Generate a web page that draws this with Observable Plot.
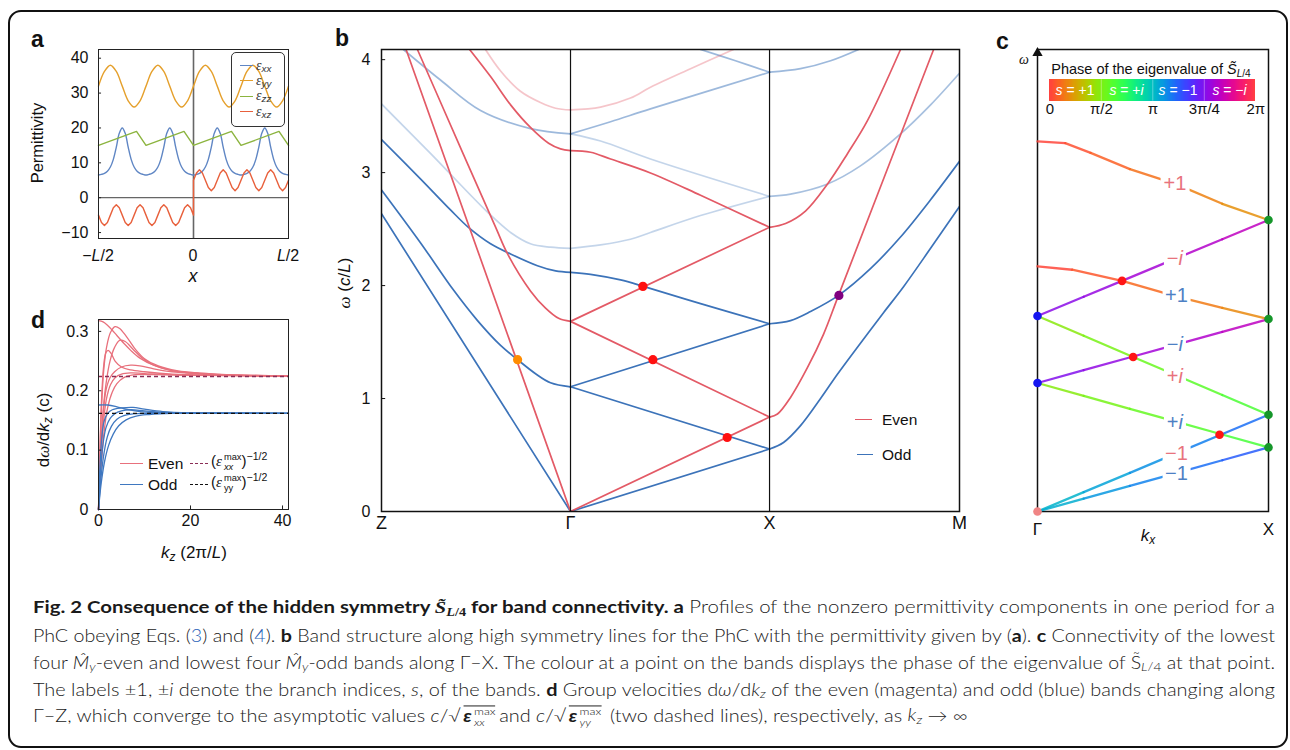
<!DOCTYPE html>
<html><head><meta charset="utf-8">
<script src="https://cdn.jsdelivr.net/npm/d3@7"></script>
<script src="https://cdn.jsdelivr.net/npm/@observablehq/plot@0.6"></script>
<style>
html,body{margin:0;padding:0;background:#fff;}
#fig{position:relative;width:1290px;height:750px;overflow:hidden;background:#fff;font-family:"Liberation Sans",Arial,Helvetica,sans-serif;color:#111;}
#fig svg{position:absolute;overflow:visible;}
.lab{position:absolute;white-space:nowrap;line-height:1;}
.lab sub{font-size:0.7em;vertical-align:-0.3em;line-height:0;}
.lab sup{font-size:0.7em;vertical-align:0.55em;line-height:0;}
.serif{font-family:"Liberation Serif","DejaVu Serif",serif;}
.pl{font-weight:bold;font-size:23px;}
.border{position:absolute;left:8px;top:10px;width:1276px;height:734px;border:2px solid #111;border-radius:13px;}
.cap{position:absolute;left:33px;white-space:nowrap;font-family:Lato,"Open Sans",sans-serif;font-weight:300;font-size:17px;line-height:1;color:#1a1a1a;transform-origin:0 50%;}
.cap b{font-weight:700;}
.cap sub{font-size:0.7em;vertical-align:-0.25em;line-height:0;}
.lk{color:#2a62b8;}
.ss{display:inline-flex;flex-direction:column;font-size:0.62em;line-height:1.05;vertical-align:0.6em;margin-left:2px;}
.ov{display:inline-block;border-top:1px solid #222;padding-top:0;line-height:1;margin-left:2px;margin-right:3px;}
.legbox{position:absolute;border:1px solid #333;border-radius:5px;}
.leg-line{position:absolute;height:0;border-top-width:1.6px;border-top-style:solid;}
</style></head>
<body><div id="fig"></div>
<script>
// ================= DATA =================
// ---- panel a : permittivity profiles (x in units of L) ----
const aXTicks = [-0.5, 0, 0.5];
const aXTickLabels = ["−<i>L</i>/2", "0", "<i>L</i>/2"];
const aYTicks = [-10, 0, 10, 20, 30, 40];
const aGrid64 = d3.range(-32, 33).map(k => k / 64);   // sampling positions, step L/64
const aGrid32 = d3.range(-16, 17).map(k => k / 32);   // sampling positions, step L/32
const epsXX = [6.5,6.7,7,7.6,8.8,11,14.5,18.5,20,18.5,14.5,11,8.8,7.6,7,6.7,
               6.5,6.7,7,7.6,8.8,11,14.5,18.5,20,18.5,14.5,11,8.8,7.6,7,6.7,
               6.5,6.7,7,7.6,8.8,11,14.5,18.5,20,18.5,14.5,11,8.8,7.6,7,6.7,
               6.5,6.7,7,7.6,8.8,11,14.5,18.5,20,18.5,14.5,11,8.8,7.6,7,6.7,6.5];
const epsYY = [32,36.2,38,36.2,32,27.8,26,27.8, 32,36.2,38,36.2,32,27.8,26,27.8,
               32,36.2,38,36.2,32,27.8,26,27.8, 32,36.2,38,36.2,32,27.8,26,27.8, 32];
const epsZZ = [[-0.5,15],[-0.3,19],[-0.25,15],[-0.05,19],[0,15],[0.2,19],[0.25,15],[0.45,19],[0.5,15]];
const epsXZneg = [-5,-7.1,-8,-7.1,-5,-2.9,-2,-2.9, -5,-7.1,-8,-7.1,-5,-2.9,-2,-2.9,
                  -5,-7.1,-8,-7.1,-5,-2.9,-2,-2.9, -5,-7.1,-8,-7.1,-5,-2.9,-2,-2.9, -5];
const epsXZpos = [5,7.1,8,7.1,5,2.9,2,2.9, 5,7.1,8,7.1,5,2.9,2,2.9,
                  5,7.1,8,7.1,5,2.9,2,2.9, 5,7.1,8,7.1,5,2.9,2,2.9, 5];

// ---- panel b : band structure, x = position along Z–Γ–X–M path ----
const bTickPos = [0, 1, 2.053, 3.058];
const bTickLabels = ["Z", "Γ", "X", "M"];
const bYTicks = [0, 1, 2, 3, 4];
const bEvenBands = [
  {op:1,    pts:[[0.13,4.09],[1,0]]},
  {op:1,    pts:[[0.19,4.09],[0.434,3.16],[0.603,2.52],[0.667,2.28],[0.788,1.953],[0.868,1.80],[0.937,1.71],[1,1.683]]},
  {op:1,    pts:[[0.466,4.09],[0.577,3.85],[0.683,3.60],[0.788,3.40],[0.884,3.26],[0.947,3.21],[1,3.195]]},
  {op:0.35, pts:[[0.550,4.09],[0.630,3.90],[0.735,3.72],[0.841,3.62],[0.921,3.57],[1,3.555]]},
  {op:1,    pts:[[1,0],[2.053,0.836]]},
  {op:1,    pts:[[1,1.683],[2.053,0.836]]},
  {op:1,    pts:[[1,1.683],[2.053,2.516]]},
  {op:1,    pts:[[1,3.195],[1.106,3.18],[1.212,3.12],[1.423,2.997],[1.688,2.80],[2.053,2.516]]},
  {op:0.35, pts:[[1,3.555],[1.159,3.58],[1.317,3.66],[1.423,3.756],[1.635,3.92],[1.862,4.09]]},
  {op:1,    pts:[[2.053,2.516],[2.138,2.55],[2.243,2.66],[2.360,2.90],[2.466,3.17],[2.571,3.46],[2.746,4.09]]},
  {op:1,    pts:[[2.053,0.836],[2.095,0.863],[2.164,1.01],[2.254,1.275],[2.339,1.571],[2.418,1.913],[2.921,4.09]]}
];
const bOddBands = [
  {op:1,    pts:[[0,2.636],[1,0]]},
  {op:1,    pts:[[0,2.847],[0.206,2.38],[0.381,1.96],[0.508,1.69],[0.630,1.47],[0.720,1.344],[0.815,1.22],[0.894,1.14],[1,1.104]]},
  {op:1,    pts:[[0,3.292],[0.206,2.945],[0.365,2.67],[0.460,2.515],[0.577,2.37],[0.683,2.28],[0.825,2.176],[0.921,2.13],[1,2.117]]},
  {op:0.3,  pts:[[0,3.608],[0.259,3.17],[0.561,2.65],[0.683,2.47],[0.788,2.37],[0.894,2.34],[1,2.33]]},
  {op:0.5,  pts:[[0.116,4.09],[0.312,3.82],[0.524,3.55],[0.788,3.39],[1,3.343]]},
  {op:1,    pts:[[1,0],[2.053,0.553]]},
  {op:1,    pts:[[1,1.104],[2.053,1.662]]},
  {op:1,    pts:[[1,1.104],[2.053,0.553]]},
  {op:1,    pts:[[1,2.117],[1.106,2.10],[1.265,2.05],[1.386,1.993],[1.688,1.84],[2.053,1.662]]},
  {op:0.3,  pts:[[1,2.33],[1.159,2.36],[1.317,2.41],[1.423,2.47],[1.688,2.62],[2.053,2.79]]},
  {op:0.3,  pts:[[1,3.343],[1.159,3.28],[1.423,3.121],[2.053,2.79]]},
  {op:0.5,  pts:[[1,3.343],[1.212,3.45],[1.423,3.564],[2.053,3.889]]},
  {op:0.5,  pts:[[1.688,4.09],[1.873,3.99],[2.053,3.889]]},
  {op:1,    pts:[[2.053,1.662],[2.164,1.69],[2.270,1.77],[2.418,1.913],[2.587,2.15],[2.746,2.43],[2.905,2.76],[3.058,3.10]]},
  {op:1,    pts:[[2.053,0.553],[2.127,0.611],[2.217,0.76],[2.323,1.0],[2.413,1.217],[2.534,1.49],[2.656,1.76],[2.762,1.99],[2.905,2.33],[3.058,2.70]]},
  {op:0.45, pts:[[2.053,2.79],[2.164,2.81],[2.360,2.90],[2.534,3.06],[2.746,3.343],[2.905,3.6],[3.058,3.88]]},
  {op:0.5,  pts:[[2.053,3.889],[2.217,3.92],[2.376,3.99],[2.524,4.09]]}
];
const bCrossings = [
  {k:0.720, w:1.344, c:"#ff8c00"},
  {k:1.383, w:1.993, c:"#ff1010"},
  {k:1.436, w:1.344, c:"#ff1010"},
  {k:1.829, w:0.655, c:"#ff1010"},
  {k:2.420, w:1.913, c:"#800080"}
];

// ---- panel c : Γ–X connectivity, [kx fraction, ω, phase in degrees] ----
const cBands = [
  {par:"even", pts:[[0,3.20,0],[0.12,3.185,5],[0.23,3.10,11],[0.4,2.96,19],[0.6,2.83,27],[0.8,2.66,34],[1,2.52,40]]},
  {par:"odd",  pts:[[0,2.12,0],[0.15,2.09,7],[0.366,1.994,15],[0.6,1.86,24],[0.8,1.76,31],[1,1.664,37]]},
  {par:"even", pts:[[0,1.69,272],[0.2,1.856,278],[0.366,1.994,283],[0.6,2.188,291],[0.8,2.354,297],[1,2.52,303]]},
  {par:"even", pts:[[0,1.69,82],[0.2,1.519,90],[0.414,1.336,97],[0.6,1.178,104],[0.8,1.007,111],[1,0.836,118]]},
  {par:"odd",  pts:[[0,1.111,268],[0.2,1.222,275],[0.414,1.34,282],[0.6,1.443,290],[0.8,1.553,296],[1,1.664,302]]},
  {par:"odd",  pts:[[0,1.111,84],[0.2,1.0,91],[0.4,0.888,98],[0.6,0.777,106],[0.788,0.672,113],[1,0.554,120]]},
  {par:"even", pts:[[0,0,182],[0.2,0.167,190],[0.4,0.334,198],[0.6,0.502,206],[0.788,0.659,214],[1,0.836,222]]},
  {par:"odd",  pts:[[0,0,184],[0.2,0.111,194],[0.4,0.222,204],[0.6,0.332,214],[0.8,0.443,222],[1,0.554,230]]}
];
const cLabels = [
  {u:0.597, w:2.832, t:"+1", par:"even"},
  {u:0.597, w:2.185, t:"−<i>i</i>", par:"even"},
  {u:0.604, w:1.870, t:"+1", par:"odd"},
  {u:0.597, w:1.441, t:"−<i>i</i>", par:"odd"},
  {u:0.597, w:1.170, t:"+<i>i</i>", par:"even"},
  {u:0.597, w:0.770, t:"+<i>i</i>", par:"odd"},
  {u:0.604, w:0.505, t:"−1", par:"even"},
  {u:0.604, w:0.330, t:"−1", par:"odd"}
];
const cDotsGamma = [{u:0, w:1.69}, {u:0, w:1.111}];
const cDotsOrigin = [{u:0, w:0}];
const cDotsCross = [{u:0.366, w:1.994}, {u:0.414, w:1.336}, {u:0.788, w:0.663}];
const cDotsX = [{u:1, w:2.52}, {u:1, w:1.664}, {u:1, w:0.836}, {u:1, w:0.554}];
const cbTicks = [0, 90, 180, 270, 360];
const cbTickLabels = ["0", "π/2", "π", "3π/4", "2π"];
const cbSegLabels = [{ph:45, t:"<i>s</i> = +1"}, {ph:135, t:"<i>s</i> = +<i>i</i>"}, {ph:225, t:"<i>s</i> = −1"}, {ph:315, t:"<i>s</i> = −<i>i</i>"}];

// ---- panel d : group velocities ----
const dXTicks = [0, 20, 40];
const dYTicks = [0, 0.1, 0.2, 0.3];
const dEvenAsym = 0.224, dOddAsym = 0.162;
const dEven = [
  [[0,0.318],[1,0.316],[2,0.31],[3,0.302],[4,0.293],[5.5,0.28],[7,0.268],[9,0.255],[12,0.243],[16,0.234],[22,0.229],[30,0.226],[41.3,0.225]],
  [[0,0],[0.3,0.09],[0.7,0.18],[1.2,0.24],[1.8,0.275],[2.6,0.298],[3.6,0.308],[4.6,0.305],[6,0.292],[8,0.27],[10,0.254],[13,0.242],[17,0.234],[24,0.229],[32,0.226],[41.3,0.225]],
  [[0,0],[0.4,0.08],[0.9,0.155],[1.6,0.21],[2.5,0.25],[3.5,0.273],[4.6,0.285],[5.8,0.283],[7.5,0.27],[9.5,0.255],[12,0.243],[16,0.234],[24,0.228],[41.3,0.225]],
  [[0,0],[0.3,0.1],[0.7,0.19],[1.1,0.24],[1.6,0.264],[2.1,0.268],[2.8,0.262],[3.6,0.25],[5,0.24],[7,0.235],[10,0.232],[16,0.228],[25,0.226],[41.3,0.225]],
  [[0,0],[0.5,0.09],[1,0.16],[1.6,0.2],[2.5,0.222],[3.5,0.232],[5,0.24],[7,0.243],[9,0.242],[12,0.237],[16,0.232],[24,0.228],[41.3,0.225]],
  [[0,0],[0.5,0.08],[1,0.14],[1.7,0.185],[2.6,0.21],[3.6,0.222],[5,0.228],[7,0.23],[10,0.229],[16,0.227],[41.3,0.225]],
  [[0,0],[0.6,0.075],[1.2,0.13],[2,0.172],[3,0.198],[4,0.212],[5.5,0.222],[8,0.227],[12,0.227],[20,0.226],[41.3,0.225]]
];
const dOdd = [
  [[0,0.176],[2,0.176],[4,0.173],[6,0.169],[9,0.165],[13,0.163],[20,0.162],[41.3,0.162]],
  [[0,0],[0.3,0.07],[0.7,0.12],[1.2,0.148],[2,0.162],[3,0.168],[5,0.171],[7.5,0.172],[10,0.169],[14,0.165],[20,0.163],[41.3,0.162]],
  [[0,0],[0.4,0.06],[0.9,0.105],[1.6,0.137],[2.5,0.153],[3.5,0.161],[5,0.166],[7,0.168],[10,0.166],[15,0.163],[41.3,0.162]],
  [[0,0],[0.5,0.05],[1.1,0.09],[1.9,0.122],[2.8,0.14],[4,0.152],[5.5,0.158],[7.5,0.161],[11,0.162],[41.3,0.162]],
  [[0,0],[0.6,0.045],[1.3,0.08],[2.2,0.108],[3.2,0.127],[4.4,0.141],[6,0.151],[8,0.157],[11,0.16],[16,0.162],[41.3,0.162]]
];

// ================= HELPERS =================
const fig = document.getElementById("fig");
const border = document.createElement("div"); border.className = "border"; fig.appendChild(border);
const FONT = '"Liberation Sans", Arial, Helvetica, sans-serif';
const baseStyle = {background: "none", fontFamily: FONT, fontSize: "15px", color: "#111", overflow: "visible"};
function mount(plot, pos) { plot.style.left = pos.left + "px"; plot.style.top = pos.top + "px"; fig.appendChild(plot); return plot; }
function lab(html, x, y, o = {}) {
  const d = document.createElement("div");
  d.className = "lab" + (o.cls ? " " + o.cls : "");
  d.innerHTML = html;
  d.style.left = x + "px"; d.style.top = y + "px";
  if (o.size) d.style.fontSize = o.size + "px";
  if (o.color) d.style.color = o.color;
  if (o.bg) { d.style.background = o.bg; d.style.padding = o.pad || "1px 2px"; }
  const tx = o.anchor === "start" ? "0" : o.anchor === "end" ? "-100%" : "-50%";
  d.style.transform = `translate(${tx},-50%)` + (o.rotate ? ` rotate(${o.rotate}deg)` : "");
  fig.appendChild(d);
  return d;
}
function legLine(x1, x2, y, color, dashed) {
  const d = document.createElement("div"); d.className = "leg-line";
  d.style.left = x1 + "px"; d.style.width = (x2 - x1) + "px"; d.style.top = (y - 0.8) + "px";
  d.style.borderTopColor = color; if (dashed) d.style.borderTopStyle = "dashed";
  fig.appendChild(d);
}
const SX = (plot, pos, v) => pos.left + plot.scale("x").apply(v);
const SY = (plot, pos, v) => pos.top + plot.scale("y").apply(v);
const minus = d => (d < 0 ? "−" + (-d) : String(d));

// ================= PANEL A =================
const C_XX = "#5f86c4", C_YY = "#e5a02c", C_ZZ = "#8cb43f", C_XZ = "#e8603c";
const rowsXX = aGrid64.map((x, i) => ({x, v: epsXX[i]}));
const rowsYY = aGrid32.map((x, i) => ({x, v: epsYY[i]}));
const rowsZZ = epsZZ.map(([x, v]) => ({x, v}));
const rowsXZ = [...aGrid64.slice(0, 33).map((x, i) => ({x, v: epsXZneg[i]})),
                ...aGrid64.slice(32).map((x, i) => ({x, v: epsXZpos[i]}))];
const A = {left: 20, top: 30};
const plotA = mount(Plot.plot({
  width: 280, height: 250, marginLeft: 78, marginRight: 12, marginTop: 19, marginBottom: 42,
  x: {domain: [-0.5, 0.5], axis: null},
  y: {domain: [-11.7, 42.5], axis: null},
  style: baseStyle,
  marks: [
    Plot.ruleY([0], {stroke: "#666", strokeWidth: 1.2}),
    Plot.ruleX([0], {stroke: "#666", strokeWidth: 1.6}),
    Plot.line(rowsXX, {x: "x", y: "v", stroke: C_XX, strokeWidth: 1.4, curve: "catmull-rom"}),
    Plot.line(rowsYY, {x: "x", y: "v", stroke: C_YY, strokeWidth: 1.4, curve: "catmull-rom"}),
    Plot.line(rowsZZ, {x: "x", y: "v", stroke: C_ZZ, strokeWidth: 1.4}),
    Plot.line(rowsXZ, {x: "x", y: "v", stroke: C_XZ, strokeWidth: 1.4}),
    Plot.ruleY(aYTicks, {x1: -0.5, x2: -0.484, stroke: "#222"}),
    Plot.text(aYTicks, {y: d => d, frameAnchor: "left", dx: -10, textAnchor: "end", text: minus, fontSize: 16}),
    Plot.frame({stroke: "#222"})
  ]
}), A);
aXTicks.forEach((v, i) => lab(aXTickLabels[i], SX(plotA, A, v), 256, {size: 16}));
lab("<i>x</i>", SX(plotA, A, 0), 276, {size: 18});
lab("Permittivity", 37, 143, {size: 16.5, rotate: -90});
// legend a
{
  const box = document.createElement("div"); box.className = "legbox";
  Object.assign(box.style, {left: "231px", top: "52px", width: "52px", height: "73px"});
  fig.appendChild(box);
  const ents = [["xx", C_XX], ["yy", C_YY], ["zz", C_ZZ], ["xz", C_XZ]];
  ents.forEach(([s, c], i) => {
    const y = [65.7, 81, 96.3, 111.7][i];
    legLine(240, 253, y, c);
    lab(`<span class="serif"><i>ε</i></span><sub><i>${s}</i></sub>`, 256, y - 1, {anchor: "start", size: 14, color: "#333"});
  });
}
lab("a", 31, 39, {anchor: "start", cls: "pl"});

// ================= PANEL D =================
const D_EVEN = "#e8707c", D_ODD = "#3f78c0";
const D = {left: 20, top: 300};
const plotD = mount(Plot.plot({
  width: 280, height: 262, marginLeft: 78, marginRight: 12, marginTop: 19, marginBottom: 53,
  x: {domain: [0, 41.3], axis: null},
  y: {domain: [0, 0.32], axis: null},
  style: baseStyle,
  marks: [
    ...dEven.map(p => Plot.line(p, {x: d => d[0], y: d => d[1], stroke: D_EVEN, strokeWidth: 1.3, curve: "catmull-rom"})),
    ...dOdd.map(p => Plot.line(p, {x: d => d[0], y: d => d[1], stroke: D_ODD, strokeWidth: 1.3, curve: "catmull-rom"})),
    Plot.ruleY([dEvenAsym], {stroke: "#8a2d55", strokeWidth: 1.3, strokeDasharray: "4,3"}),
    Plot.ruleY([dOddAsym], {stroke: "#111", strokeWidth: 1.3, strokeDasharray: "4,3"}),
    Plot.ruleY(dYTicks, {x1: 0, x2: 0.7, stroke: "#222"}),
    Plot.ruleX(dXTicks, {y1: 0, y2: 0.006, stroke: "#222"}),
    Plot.text(dYTicks, {y: d => d, frameAnchor: "left", dx: -10, textAnchor: "end", text: d => String(d), fontSize: 16}),
    Plot.text(dXTicks, {x: d => d, frameAnchor: "bottom", dy: 16, text: d => String(d), fontSize: 16}),
    Plot.frame({stroke: "#222"})
  ]
}), D);
lab('<i>k</i><sub><i>z</i></sub> (2π/<i>L</i>)', 194, 552, {size: 17});
lab('d<i class="serif">ω</i>/d<i>k</i><sub><i>z</i></sub> (c)', 43, 430, {size: 17, rotate: -90});
legLine(120, 143, 463.5, D_EVEN); lab("Even", 148, 463.5, {anchor: "start", size: 15.5});
legLine(120, 143, 484.5, D_ODD); lab("Odd", 148, 484.5, {anchor: "start", size: 15.5});
legLine(190, 208, 463.5, "#8a2d55", true);
legLine(190, 208, 484.5, "#111", true);
lab('(<i class="serif">ε</i><span class="ss"><span>max</span><span><i>xx</i></span></span>)<sup>−1/2</sup>', 211, 463, {anchor: "start", size: 15});
lab('(<i class="serif">ε</i><span class="ss"><span>max</span><span>yy</span></span>)<sup>−1/2</sup>', 211, 484, {anchor: "start", size: 15});
lab("d", 31, 320, {anchor: "start", cls: "pl"});

// ================= PANEL B =================
const B_EVEN = "#e35a66", B_ODD = "#3c73b9";
const B = {left: 330, top: 20};
const bandMarks = (bands, color) => bands.map(b => Plot.line(b.pts, {
  x: d => d[0], y: d => d[1], stroke: color, strokeOpacity: b.op, strokeWidth: 1.7, curve: "catmull-rom", clip: true
}));
const plotB = mount(Plot.plot({
  width: 640, height: 530, marginLeft: 51, marginRight: 11, marginTop: 29, marginBottom: 39,
  x: {domain: [0, 3.058], axis: null},
  y: {domain: [0, 4.09], axis: null},
  style: baseStyle,
  marks: [
    ...bandMarks(bOddBands, B_ODD),
    ...bandMarks(bEvenBands, B_EVEN),
    Plot.ruleX(bTickPos.slice(1, 3), {stroke: "#111", strokeWidth: 1.2}),
    ...[...new Set(bCrossings.map(d => d.c))].map(c =>
      Plot.dot(bCrossings.filter(d => d.c === c), {x: "k", y: "w", fill: c, r: 4.6})),
    Plot.ruleY(bYTicks.slice(1), {x1: 0, x2: 0.022, stroke: "#111"}),
    Plot.text(bYTicks, {y: d => d, frameAnchor: "left", dx: -11, textAnchor: "end", text: d => String(d), fontSize: 16}),
    Plot.text(bTickPos, {x: d => d, frameAnchor: "bottom", dy: 17, text: (d, i) => bTickLabels[i], fontSize: 18}),
    Plot.frame({stroke: "#111", strokeWidth: 1.5})
  ]
}), B);
lab('<i class="serif">ω</i> (<i>c</i>/<i>L</i>)', 344, 283, {size: 17, rotate: -90});
legLine(855, 872, 420, B_EVEN); lab("Even", 882, 420, {anchor: "start", size: 15.5});
legLine(857, 873, 454.5, B_ODD); lab("Odd", 882, 454.5, {anchor: "start", size: 15.5});
lab("b", 335, 38, {anchor: "start", cls: "pl"});

// ================= PANEL C =================
const C = {left: 990, top: 20};
const cSegs = cBands.flatMap(b => b.pts.slice(1).map((p, i) => ({
  u1: b.pts[i][0], w1: b.pts[i][1], u2: p[0], w2: p[1], ph: (b.pts[i][2] + p[2]) / 2
})));
const plotC = mount(Plot.plot({
  width: 300, height: 530, marginLeft: 47, marginRight: 22, marginTop: 29, marginBottom: 39,
  x: {domain: [0, 1], axis: null},
  y: {domain: [0, 3.994], axis: null},
  color: {type: "linear", domain: [0, 360], scheme: "sinebow"},
  style: baseStyle,
  marks: [
    Plot.frame({stroke: "#111", strokeWidth: 1.5}),
    Plot.link(cSegs, {x1: "u1", y1: "w1", x2: "u2", y2: "w2", stroke: "ph", strokeWidth: 2.3, strokeOpacity: 0.85, strokeLinecap: "round"}),
    Plot.dot(cDotsGamma, {x: "u", y: "w", fill: "#1515f0", r: 4.3}),
    Plot.dot(cDotsOrigin, {x: "u", y: "w", fill: "#f08585", r: 4.3}),
    Plot.dot(cDotsCross, {x: "u", y: "w", fill: "#ff1515", r: 4.3}),
    Plot.dot(cDotsX, {x: "u", y: "w", fill: "#15962a", r: 4.3}),
    Plot.dot([3.994], {x: 0, y: d => d, symbol: "triangle", fill: "#111", r: 3.8, dy: 3.5}),
    Plot.text(["Γ", "X"], {x: (d, i) => i, frameAnchor: "bottom", dy: 23, text: d => d, fontSize: 17})
  ]
}), C);
cLabels.forEach(l => lab(l.t, SX(plotC, C, l.u), SY(plotC, C, l.w), {
  size: 20, color: l.par === "even" ? "#e8737d" : "#4d80c4", bg: "#fff", pad: "2px 3px"
}));
lab('<i class="serif">ω</i>', 1024, 59, {size: 14});
lab('<i>k<sub>x</sub></i>', SX(plotC, C, 0.48), 535, {size: 17});
lab("c", 996, 41, {anchor: "start", cls: "pl"});

// colour bar
const CB = {left: 1030, top: 75};
const cbStripes = d3.range(0, 360, 2);
const plotCB = mount(Plot.plot({
  width: 240, height: 50, marginLeft: 19.3, marginRight: 14.7, marginTop: 4.3, marginBottom: 24.3,
  x: {domain: [0, 360], axis: null},
  y: {domain: [0, 1], axis: null},
  color: {type: "linear", domain: [0, 360], scheme: "sinebow"},
  style: baseStyle,
  marks: [
    Plot.rect(cbStripes, {x1: d => d, x2: d => Math.min(360, d + 2.6), y1: 0, y2: 1, fill: d => d + 1, shapeRendering: "crispEdges"}),
    Plot.ruleX([90, 180, 270], {stroke: "#fff", strokeOpacity: 0.35}),
    Plot.text(cbTicks, {x: d => d, frameAnchor: "bottom", dy: 13, text: (d, i) => cbTickLabels[i], fontSize: 15})
  ]
}), CB);
cbSegLabels.forEach(s => lab(s.t, SX(plotCB, CB, s.ph), 90, {size: 14, color: "#fff"}));
lab('Phase of the eigenvalue of <i>S̃</i><sub><i>L</i>/4</sub>', 1151, 69, {size: 14.5});

// ================= CAPTION =================
const capLines = [
  '<b>Fig. 2 Consequence of the hidden symmetry <span class="serif"><i>S̃</i><sub><i>L</i>/4</sub></span> for band connectivity. a</b> Profiles of the nonzero permittivity components in one period for a',
  'PhC obeying Eqs. (<span class="lk">3</span>) and (<span class="lk">4</span>). <b>b</b> Band structure along high symmetry lines for the PhC with the permittivity given by (<b>a</b>). <b>c</b> Connectivity of the lowest',
  'four <i>M̂<sub>y</sub></i>-even and lowest four <i>M̂<sub>y</sub></i>-odd bands along Γ–X. The colour at a point on the bands displays the phase of the eigenvalue of S̃<sub><i>L</i>/4</sub> at that point.',
  'The labels ±1, ±<i>i</i> denote the branch indices, <i>s</i>, of the bands. <b>d</b> Group velocities d<i>ω</i>/d<i>k<sub>z</sub></i> of the even (magenta) and odd (blue) bands changing along',
  'Γ–Z, which converge to the asymptotic values <i>c</i>/√<span class="ov"><b><i>ε</i></b><span class="ss"><span>max</span><span><i>xx</i></span></span></span>and <i>c</i>/√<span class="ov"><b><i>ε</i></b><span class="ss"><span>max</span><span><i>yy</i></span></span></span> (two dashed lines), respectively, as <i>k<sub>z</sub></i> → ∞'
];
const capY = [607, 634.5, 662, 689, 717];
const capEls = capLines.map((h, i) => {
  const d = document.createElement("div"); d.className = "cap"; d.innerHTML = h;
  d.style.top = capY[i] + "px"; fig.appendChild(d); return d;
});
const capW = capEls.map(d => d.getBoundingClientRect().width);
const capScale = capW.slice(0, 4).map(w => 1242 / w);
const capAvg = d3.mean(capScale);
capEls.forEach((d, i) => { d.style.transform = `translateY(-50%) scaleX(${i < 4 ? capScale[i] : capAvg})`; });
</script></body></html>
